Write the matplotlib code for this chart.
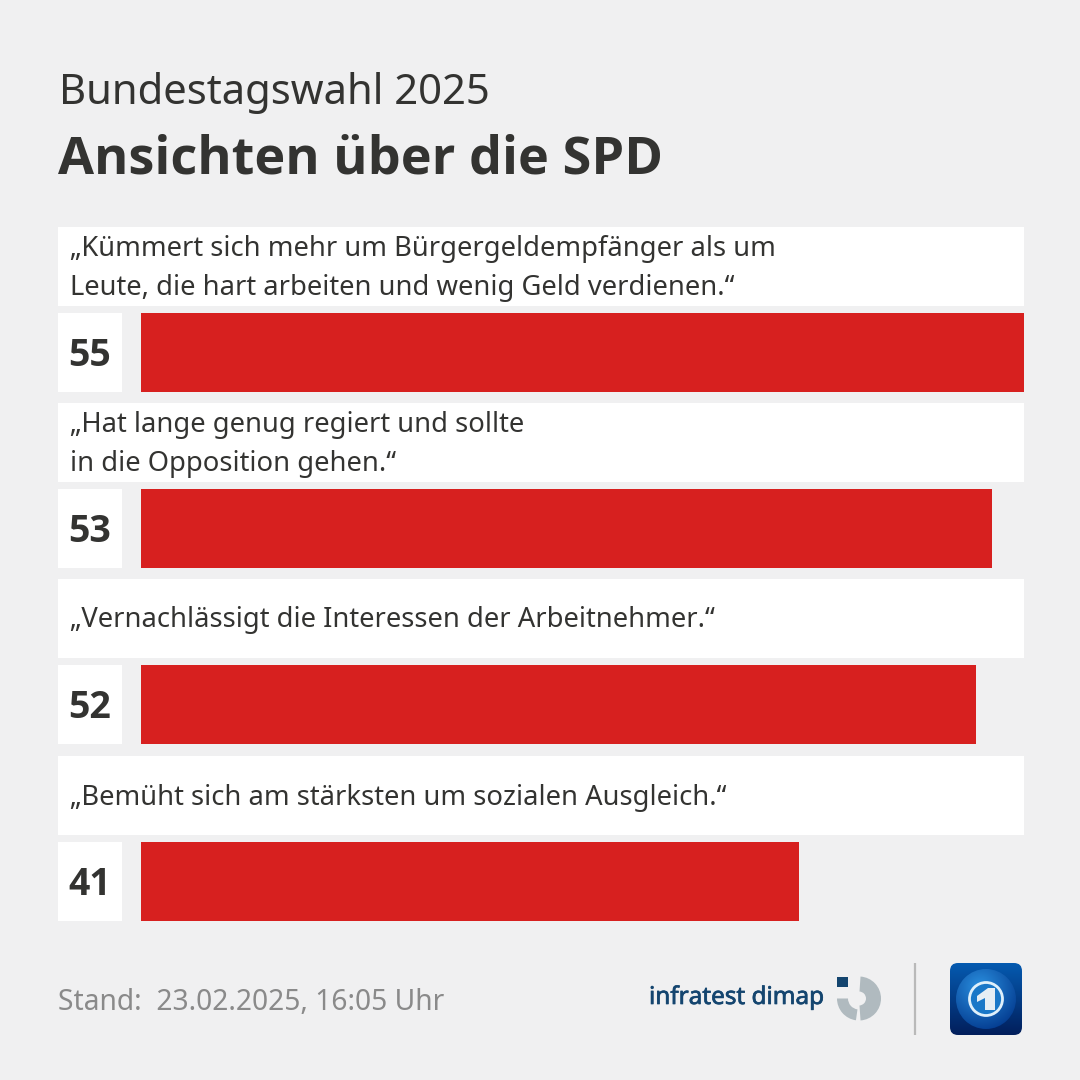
#!/usr/bin/env python
# Bundestagswahl 2025 - Ansichten ueber die SPD
import numpy as np
import matplotlib
matplotlib.use("Agg")
import matplotlib.pyplot as plt
import matplotlib.patheffects as pe
from matplotlib.patches import Rectangle, FancyBboxPatch, Wedge, Circle, Polygon

statements = ["„Kümmert sich mehr um Bürgergeldempfänger als um\nLeute, die hart arbeiten und wenig Geld verdienen.“",
              "„Hat lange genug regiert und sollte\nin die Opposition gehen.“",
              "„Vernachlässigt die Interessen der Arbeitnehmer.“",
              "„Bemüht sich am stärksten um sozialen Ausgleich.“"]
values = [55, 53, 52, 41]

BG = "#f0f0f1"
RED = "#d7201f"
DARK = "#333331"
plt.rcParams['font.family'] = ['Noto Sans', 'DejaVu Sans']
BOLD = ['Open Sans', 'DejaVu Sans']

fig = plt.figure(figsize=(10.8, 10.8), dpi=100, facecolor=BG)

# whole figure in pixels, top left origin
bg = fig.add_axes([0, 0, 1, 1])
bg.set_xlim(0, 1080)
bg.set_ylim(1080, 0)
bg.axis("off")

bg.text(59, 93, "Bundestagswahl 2025", fontsize=30.1, color=DARK, va="center", ha="left")
bg.text(58, 160, "Ansichten über die SPD", fontsize=37.6, color=DARK, va="center", ha="left",
        fontweight="bold", family=BOLD)

row_tops = [227, 403, 579, 756]
for top, s, v in zip(row_tops, statements, values):
    bg.add_patch(Rectangle((58, top), 966, 79, fc="white", ec="none"))
    bg.add_patch(Rectangle((58, top + 86), 64, 79, fc="white", ec="none"))
    bg.text(70, top + 41.5, s, fontsize=19.7, color=DARK, va="center", ha="left", linespacing=1.55)
    bg.text(90, top + 129, str(v), fontsize=27, color=DARK, va="center", ha="center",
            fontweight="bold", family=BOLD)

# bars, x axis runs from 0 to the biggest value
ax = fig.add_axes([141 / 1080, 0, (1024 - 141) / 1080, 1])
ax.patch.set_alpha(0)
ax.set_xlim(0, max(values))
ax.set_ylim(1080, 0)
ax.axis("off")
ax.barh([t + 125.5 for t in row_tops], values, height=79, left=0, color=RED)

# footer
bg.text(58, 1003, "Stand:  23.02.2025, 16:05 Uhr", fontsize=20.3, color="#8a8a8a", va="center", ha="left")
bg.text(649, 998, "infratest dimap", fontsize=17.5, color="#14456f", va="center", ha="left",
        path_effects=[pe.withStroke(linewidth=0.5, foreground="#14456f")])

# infratest logo ring
bg.add_patch(Wedge((859, 998.5), 22, -86, 86, width=15, fc="#b0babf", ec="none"))
bg.add_patch(Wedge((859, 998.5), 22, 98, 180, width=11, fc="#b0babf", ec="none"))
bg.add_patch(Rectangle((837, 977), 11, 10, fc="#14456f", ec="none", zorder=3))
bg.plot([915, 915], [963, 1035], color="#b9b9b9", lw=1.6, solid_capstyle="butt")

# tagesschau icon
grad = np.linspace(0, 1, 72).reshape(-1, 1)
top_col = np.array([0x05, 0x5a, 0xb0]) / 255
bot_col = np.array([0x02, 0x1f, 0x5c]) / 255
img = top_col[None, None, :] * (1 - grad[..., None]) + bot_col[None, None, :] * grad[..., None]
im = bg.imshow(img, extent=(950, 1022, 1035, 963), aspect="auto", zorder=2)
clip = FancyBboxPatch((950, 963), 72, 72, boxstyle="round,pad=0,rounding_size=8", fc="none", ec="none")
bg.add_patch(clip)
im.set_clip_path(clip)

# globe, lighter towards the upper left
yy, xx = np.mgrid[0:1:120j, 0:1:120j]
shade = np.clip(np.hypot(xx - 0.4, yy - 0.3) / 0.75, 0, 1)[..., None]
light = np.array([0x2a, 0x90, 0xe0]) / 255
deep = np.array([0x04, 0x3c, 0x90]) / 255
globe = bg.imshow(light * (1 - shade) + deep * shade, extent=(956, 1016, 1029, 969), aspect="auto", zorder=3)
edge = Circle((986, 999), 30, fc="none", ec="none")
bg.add_patch(edge)
globe.set_clip_path(edge)
bg.add_patch(Circle((986, 999), 16.5, fc="#1a78c8", ec="#dff0fb", lw=2, zorder=4))
bg.add_patch(Polygon([(977, 996), (988, 988), (995, 988), (995, 1010), (985, 1010), (985, 998), (977, 1002)],
                     closed=True, fc="#e6eef4", ec="none", zorder=5))
bg.set_xlim(0, 1080)
bg.set_ylim(1080, 0)

fig.savefig("out.png", dpi=100, facecolor=BG)
